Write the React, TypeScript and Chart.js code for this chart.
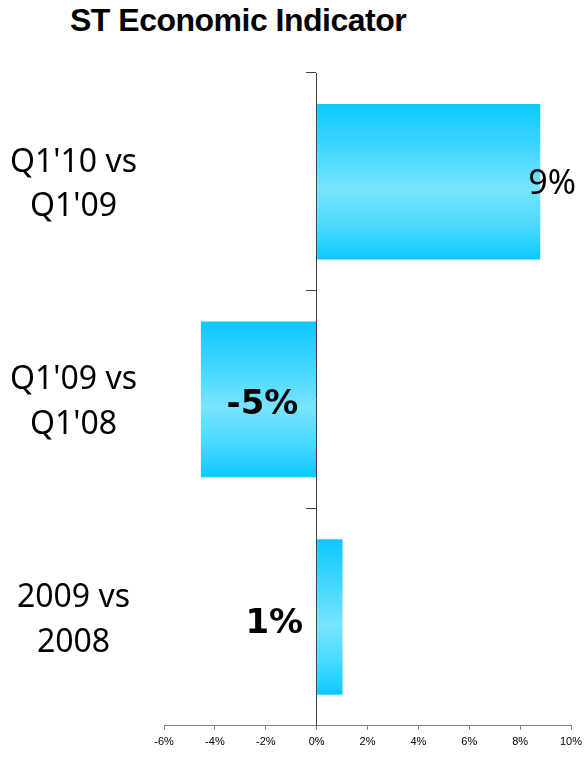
import React, { useEffect, useRef } from 'react';
import { Chart, registerables } from 'chart.js';

Chart.register(...registerables);

const chartTitle = 'ST Economic Indicator';
const categories: string[][] = [
  ["Q1'10 vs", "Q1'09"],
  ["Q1'09 vs", "Q1'08"],
  ['2009 vs', '2008'],
];
const values: number[] = [8.79, -4.55, 1.02];
const xMin = -6;
const xMax = 10;
const xStep = 2;

const BAR_PCT = 0.715;

const labelStyles = [
  { align: 'end', dx: -12, dy: 12, bold: false },
  { align: 'center', dx: 4, dy: 15, bold: true },
  { align: 'base', dx: -14, dy: 16, bold: true },
];

const valueLabelPlugin = {
  id: 'valueLabels',
  afterDatasetsDraw(chart: any) {
    const meta = chart.getDatasetMeta(0);
    const ctx = chart.ctx;
    ctx.save();
    meta.data.forEach((bar: any, i: number) => {
      const { x, y, base } = bar.getProps(['x', 'y', 'base'], true);
      const st = labelStyles[i];
      const text = Math.round(values[i]) + '%';
      ctx.font = st.bold ? 'bold 34px "DejaVu Sans"' : '34px "Noto Sans"';
      ctx.fillStyle = '#000000';
      ctx.textBaseline = 'alphabetic';
      let tx = x;
      if (st.align === 'end') {
        ctx.textAlign = 'left';
        tx = x + st.dx;
      } else if (st.align === 'center') {
        ctx.textAlign = 'center';
        tx = (x + base) / 2 + st.dx;
      } else {
        ctx.textAlign = 'right';
        tx = base + st.dx;
      }
      ctx.fillText(text, tx, y + st.dy);
    });
    ctx.restore();
  },
};

export default function App() {
  const ref = useRef<HTMLCanvasElement | null>(null);

  useEffect(() => {
    if (!ref.current) return;
    const chart = new Chart(ref.current, {
      type: 'bar',
      data: {
        labels: categories,
        datasets: [
          {
            data: values,
            barPercentage: BAR_PCT,
            categoryPercentage: 1,
            borderWidth: 0,
            backgroundColor: (c: any) => {
              const ch = c.chart;
              const ys = ch.scales && ch.scales.y;
              if (!ys || c.type !== 'data') return '#0BC8FF';
              const center = ys.getPixelForValue(c.dataIndex);
              const band = Math.abs(ys.getPixelForValue(1) - ys.getPixelForValue(0));
              const h = (band * BAR_PCT) / 2;
              if (!isFinite(center) || !isFinite(h) || h <= 0) return '#0BC8FF';
              const g = ch.ctx.createLinearGradient(0, center - h, 0, center + h);
              g.addColorStop(0, '#0CC8FF');
              g.addColorStop(0.25, '#3AD4FF');
              g.addColorStop(0.55, '#78E4FF');
              g.addColorStop(0.8, '#45D8FF');
              g.addColorStop(1, '#0CC8FF');
              return g;
            },
          },
        ],
      },
      options: {
        indexAxis: 'y',
        responsive: false,
        animation: false,
        devicePixelRatio: 1,
        layout: { padding: { top: 73, right: 15, bottom: 4, left: 0 } },
        plugins: {
          legend: { display: false },
          tooltip: { enabled: false },
          title: { display: false },
        },
        scales: {
          x: {
            type: 'linear',
            position: 'bottom',
            min: xMin,
            max: xMax,
            afterFit: (s: any) => {
              s.paddingLeft = 0;
              s.paddingRight = 0;
            },
            ticks: {
              stepSize: xStep,
              color: '#000000',
              font: { family: '"Liberation Sans", Arial, sans-serif', size: 11 },
              padding: 6,
              callback: (v: any) => v + '%',
            },
            grid: {
              drawOnChartArea: false,
              drawTicks: true,
              tickLength: 4,
              color: '#808080',
            },
            border: { display: true, color: '#808080', width: 1 },
          },
          y: {
            type: 'category',
            position: 'left',
            offset: true,
            afterFit: (s: any) => {
              s.width = 164;
              s.paddingTop = 0;
              s.paddingBottom = 0;
            },
            grid: { display: false, drawTicks: false },
            border: { display: false },
            ticks: {
              crossAlign: 'center',
              padding: 27,
              labelOffset: 3,
              color: '#000000',
              font: { family: '"Noto Sans", sans-serif', size: 32, lineHeight: 1.4 },
            },
          },
          y2: {
            type: 'category',
            axis: 'y',
            position: { x: 0 },
            offset: true,
            afterFit: (s: any) => {
              s.paddingTop = 0;
              s.paddingBottom = 0;
              s.paddingLeft = 0;
              s.paddingRight = 0;
            },
            grid: {
              offset: true,
              drawOnChartArea: false,
              drawTicks: true,
              tickLength: 10,
              color: '#404040',
            },
            border: { display: true, color: '#404040', width: 1, z: 1 },
            ticks: { display: false },
          },
        },
      } as any,
      plugins: [valueLabelPlugin],
    });
    return () => chart.destroy();
  }, []);

  return (
    <div style={{ position: 'fixed', left: 0, top: 0, width: 586, height: 759, background: '#ffffff' }}>
      <div
        style={{
          position: 'absolute',
          left: 70,
          top: 2,
          fontFamily: '"Liberation Sans", Arial, sans-serif',
          fontWeight: 'bold',
          fontSize: 32,
          lineHeight: '36px',
          letterSpacing: '-0.5px',
          color: '#000000',
          whiteSpace: 'nowrap',
        }}
      >
        {chartTitle}
      </div>
      <canvas ref={ref} width={586} height={759} style={{ position: 'absolute', left: 0, top: 0, width: 586, height: 759 }} />
    </div>
  );
}
